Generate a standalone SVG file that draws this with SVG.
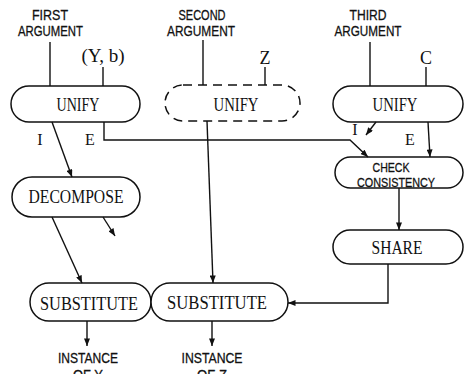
<svg xmlns="http://www.w3.org/2000/svg" width="468" height="374" viewBox="0 0 468 374">
  <style>
    .node { fill: #fff; stroke: #111; stroke-width: 1.5; }
    .dash { stroke-dasharray: 9 6; }
    .edge { fill: none; stroke: #111; stroke-width: 1.4; }
    .serif { font-family: "Liberation Serif", "Times New Roman", serif; fill: #111; text-anchor: middle; }
    .sans { font-family: "Liberation Sans", Arial, sans-serif; fill: #111; stroke: #111; stroke-width: 0.3; text-anchor: middle; }
  </style>
  <defs>
    <marker id="arrow" viewBox="0 0 10 8" refX="10" refY="4" markerWidth="8" markerHeight="6" markerUnits="userSpaceOnUse" orient="auto">
      <path d="M0,0 L10,4 L0,8 Z" fill="#111"/>
    </marker>
  </defs>

  <!-- input labels -->
  <g id="first-argument">
    <text class="sans" x="50" y="20" font-size="15.5" textLength="36" lengthAdjust="spacingAndGlyphs">FIRST</text>
    <text class="sans" x="50.5" y="36" font-size="15.5" textLength="65" lengthAdjust="spacingAndGlyphs">ARGUMENT</text>
  </g>
  <g id="second-argument">
    <text class="sans" x="202" y="20" font-size="15.5" textLength="47" lengthAdjust="spacingAndGlyphs">SECOND</text>
    <text class="sans" x="201" y="36" font-size="15.5" textLength="68" lengthAdjust="spacingAndGlyphs">ARGUMENT</text>
  </g>
  <g id="third-argument">
    <text class="sans" x="368" y="20" font-size="15.5" textLength="37" lengthAdjust="spacingAndGlyphs">THIRD</text>
    <text class="sans" x="368" y="36" font-size="15.5" textLength="67" lengthAdjust="spacingAndGlyphs">ARGUMENT</text>
  </g>
  <g id="label-yb"><text class="serif" x="103" y="62" font-size="18" textLength="43" lengthAdjust="spacingAndGlyphs">(Y, b)</text></g>
  <g id="label-z"><text class="serif" x="265" y="64" font-size="18">Z</text></g>
  <g id="label-c"><text class="serif" x="426" y="64" font-size="18">C</text></g>

  <!-- process nodes -->
  <g id="unify-1">
    <rect class="node" x="11" y="86" width="129" height="36" rx="18"/>
    <text class="serif" x="78" y="111" font-size="19" textLength="43" lengthAdjust="spacingAndGlyphs">UNIFY</text>
  </g>
  <g id="unify-2">
    <rect class="node dash" x="165" y="85" width="135" height="36" rx="18"/>
    <text class="serif" x="236" y="111" font-size="19" textLength="45" lengthAdjust="spacingAndGlyphs">UNIFY</text>
  </g>
  <g id="unify-3">
    <rect class="node" x="333" y="86" width="130" height="36" rx="18"/>
    <text class="serif" x="395" y="111" font-size="19" textLength="45" lengthAdjust="spacingAndGlyphs">UNIFY</text>
  </g>
  <g id="decompose">
    <rect class="node" x="12" y="177" width="128" height="40" rx="20"/>
    <text class="serif" x="76" y="202.5" font-size="18.5" textLength="95" lengthAdjust="spacingAndGlyphs">DECOMPOSE</text>
  </g>
  <g id="check-consistency">
    <rect class="node" x="335" y="157" width="128" height="31" rx="15.5"/>
    <text class="sans" x="391" y="172" font-size="13.5" textLength="37" lengthAdjust="spacingAndGlyphs">CHECK</text>
    <text class="sans" x="396" y="186.5" font-size="13.5" textLength="78" lengthAdjust="spacingAndGlyphs">CONSISTENCY</text>
  </g>
  <g id="share">
    <rect class="node" x="333" y="230" width="130" height="34" rx="17"/>
    <text class="serif" x="397" y="253.5" font-size="18.5" textLength="51" lengthAdjust="spacingAndGlyphs">SHARE</text>
  </g>
  <g id="substitute-1">
    <rect class="node" x="30" y="283" width="121" height="38" rx="19"/>
    <text class="serif" x="89" y="310" font-size="19.5" textLength="98" lengthAdjust="spacingAndGlyphs">SUBSTITUTE</text>
  </g>
  <g id="substitute-2">
    <rect class="node" x="151" y="283" width="137" height="38" rx="19"/>
    <text class="serif" x="217" y="309" font-size="19.5" textLength="100" lengthAdjust="spacingAndGlyphs">SUBSTITUTE</text>
  </g>

  <!-- outputs -->
  <g id="instance-of-y">
    <text class="sans" x="88" y="363" font-size="15.5" textLength="60" lengthAdjust="spacingAndGlyphs">INSTANCE</text>
    <text class="sans" x="88" y="380" font-size="15.5" textLength="30" lengthAdjust="spacingAndGlyphs">OF Y</text>
  </g>
  <g id="instance-of-z">
    <text class="sans" x="212" y="363" font-size="15.5" textLength="61" lengthAdjust="spacingAndGlyphs">INSTANCE</text>
    <text class="sans" x="212" y="380" font-size="15.5" textLength="30" lengthAdjust="spacingAndGlyphs">OF Z</text>
  </g>

  <!-- edge labels -->
  <g id="edge-labels">
    <text class="serif" x="40" y="145" font-size="16">I</text>
    <text class="serif" x="90" y="145" font-size="16">E</text>
    <text class="serif" x="355" y="135" font-size="16">I</text>
    <text class="serif" x="410" y="145" font-size="16">E</text>
  </g>

  <!-- connectors -->
  <g id="connectors">
    <line class="edge" x1="50" y1="42" x2="50" y2="86"/>
    <line class="edge" x1="103" y1="67" x2="103" y2="86"/>
    <line class="edge" x1="203" y1="40" x2="203" y2="85"/>
    <line class="edge" x1="265" y1="67" x2="265" y2="85"/>
    <line class="edge" x1="370" y1="42" x2="370" y2="86"/>
    <line class="edge" x1="426" y1="67" x2="426" y2="86"/>

    <line class="edge" x1="52" y1="122" x2="72" y2="177" marker-end="url(#arrow)"/>
    <polyline class="edge" points="104,122 104,140 350,140 368,157" marker-end="url(#arrow)"/>
    <line class="edge" x1="207" y1="121" x2="213" y2="283" marker-end="url(#arrow)"/>
    <line class="edge" x1="376" y1="122" x2="366" y2="135" marker-end="url(#arrow)"/>
    <line class="edge" x1="428" y1="122" x2="430" y2="157" marker-end="url(#arrow)"/>
    <line class="edge" x1="399" y1="188" x2="399" y2="230" marker-end="url(#arrow)"/>
    <polyline class="edge" points="388,264 388,303 288,303" marker-end="url(#arrow)"/>
    <line class="edge" x1="52" y1="217" x2="82" y2="283" marker-end="url(#arrow)"/>
    <line class="edge" x1="103" y1="217" x2="115" y2="236" marker-end="url(#arrow)"/>
    <line class="edge" x1="87" y1="321" x2="87" y2="346" marker-end="url(#arrow)"/>
    <line class="edge" x1="212" y1="321" x2="212" y2="346" marker-end="url(#arrow)"/>
  </g>
</svg>
